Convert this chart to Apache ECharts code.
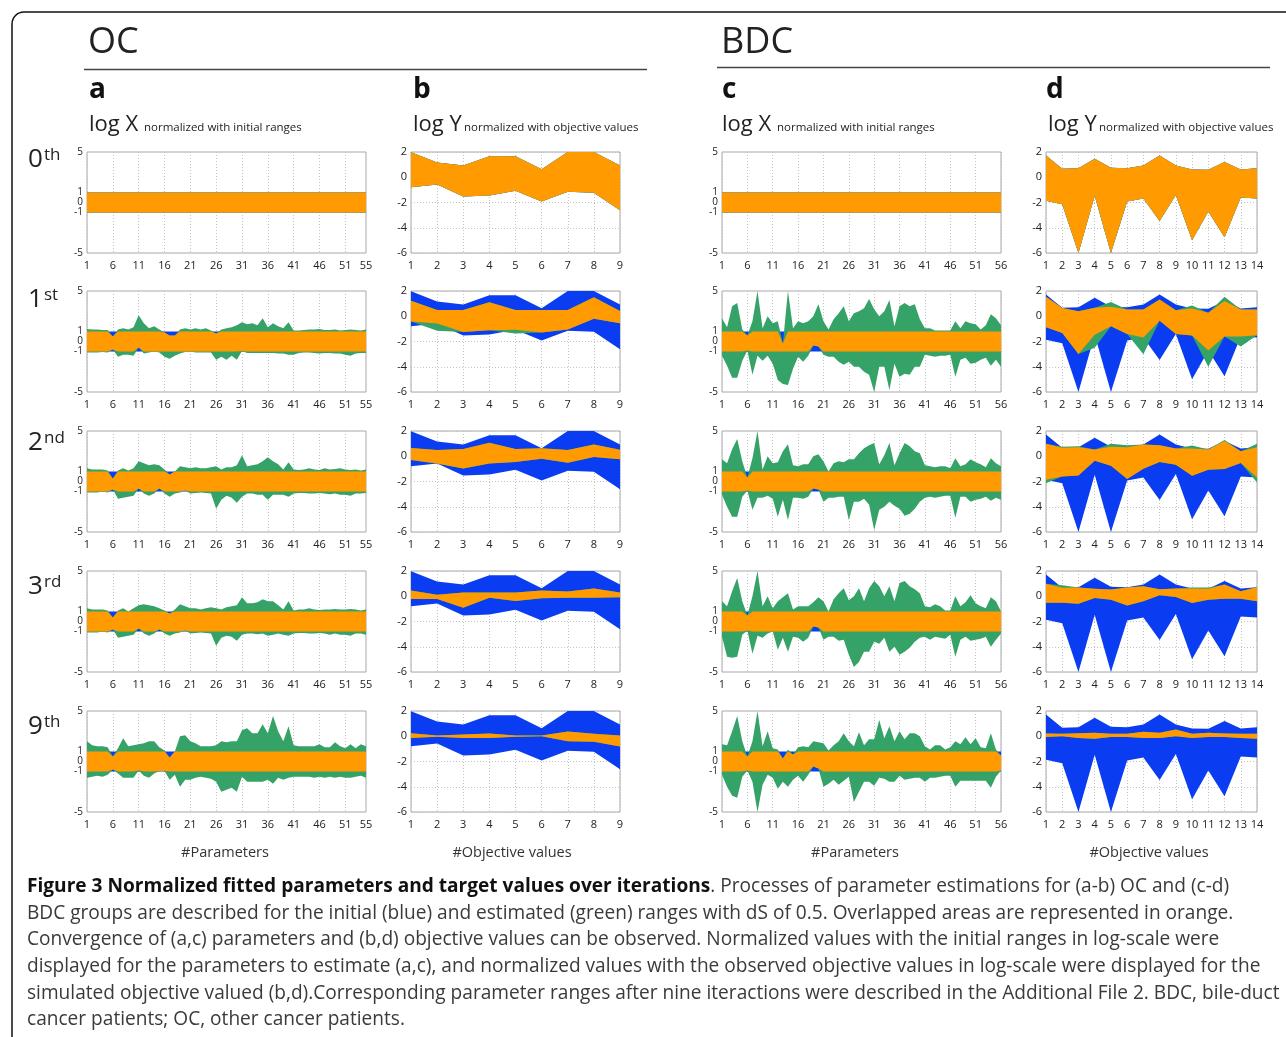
<!DOCTYPE html>
<html>
<head>
<meta charset="utf-8">
<script src="https://cdn.jsdelivr.net/npm/echarts@6/dist/echarts.min.js"></script>
<style>
html,body{margin:0;padding:0;background:#fff;}
#main{width:1286px;height:1037px;}
</style>
</head>
<body>
<div id="main"></div>
<script>
// categories
function idx(n){ var a=[]; for(var i=1;i<=n;i++){ a.push(String(i)); } return a; }
var paramsOC  = idx(55);
var paramsBDC = idx(56);
var objOC  = idx(9);
var objBDC = idx(14);

// initial ranges (normalized log X is -1..1 for every parameter)
var initLoX = -1, initHiX = 1;
// initial ranges of objective values (log Y)
var bInitHi = [1.99,1.17,0.93,1.66,1.66,0.63,2.0,2.0,0.93];
var bInitLo = [-0.79,-0.57,-1.52,-1.44,-1.06,-1.93,-1.14,-1.22,-2.61];
var dInitHi = [1.73,0.67,0.72,1.47,0.75,0.72,0.93,1.73,0.93,0.61,0.59,1.2,0.61,0.72];
var dInitLo = [-1.87,-2.13,-6.0,-1.47,-6.0,-1.92,-1.68,-3.47,-1.41,-4.99,-2.72,-4.75,-1.6,-1.68];

// estimated ranges, OC parameters (a)
var a1Hi = [1.25,1.2,1.2,1.15,1.15, 0.5,1.2,1.3,1.2,1.4, 2.6,1.8,1.3,1.5,1.2, 0.9,0.6,0.6,1.2,1.3, 1.2,1.3,1.2,1.3,1.1, 0.8,1.2,1.3,1.4,1.6, 1.9,1.7,1.8,1.6,2.3, 1.4,1.8,1.5,1.3,1.9, 1.1,1.1,1.15,1.2,1.2, 1.25,1.15,1.15,1.2,1.1, 1.15,1.2,1.15,1.1,1.2];
var a1Lo = [-1.1,-1.1,-1.1,-1.05,-1.1, -0.8,-1.5,-1.3,-1.3,-1.4, -0.6,-1.2,-1.1,-1.0,-1.1, -1.5,-1.7,-1.4,-1.2,-1.05, -1.0,-1.1,-1.1,-1.1,-1.1, -1.8,-1.5,-1.8,-1.4,-1.8, -0.95,-1.15,-1.15,-1.15,-1.15, -1.15,-1.15,-1.2,-1.2,-1.3, -1.3,-1.15,-1.1,-1.1,-1.15, -1.2,-1.15,-1.15,-1.2,-1.2, -1.3,-1.4,-1.2,-1.15,-1.15];
var a2Hi = [1.3,1.2,1.2,1.2,1.1, 0.3,1.1,1.3,1.1,1.3, 2.0,1.8,1.6,1.7,1.6, 1.2,0.7,1.0,1.5,1.4, 1.3,1.4,1.3,1.3,1.4, 1.5,1.2,1.4,1.4,1.6, 2.6,1.5,1.6,1.7,2.0, 2.4,2.0,1.7,1.2,1.9, 1.2,1.15,1.2,1.3,1.2, 1.15,1.3,1.2,1.25,1.3, 1.2,1.15,1.2,1.1,1.2];
var a2Lo = [-1.1,-1.1,-1.1,-1.0,-1.1, -0.8,-1.7,-1.6,-1.5,-1.4, -0.7,-1.2,-1.4,-1.2,-0.7, -1.2,-1.5,-1.2,-1.1,-0.9, -1.2,-1.15,-1.1,-1.15,-1.2, -2.7,-1.8,-1.4,-1.6,-2.1, -1.5,-1.2,-1.2,-1.3,-1.3, -1.8,-1.3,-1.3,-1.3,-1.5, -1.2,-1.15,-1.15,-1.2,-1.2, -1.15,-1.2,-1.25,-1.2,-1.3, -1.3,-1.4,-1.2,-1.2,-1.15];
var a3Hi = [1.3,1.2,1.2,1.2,1.1, 0.4,1.1,1.3,1.0,1.3, 1.6,1.7,1.6,1.5,1.3, 1.1,0.8,1.2,1.7,1.5, 1.3,1.3,1.2,1.3,1.4, 1.3,1.2,1.4,1.5,1.6, 2.4,1.8,1.8,1.9,2.2, 2.0,2.0,1.6,1.2,2.0, 1.1,1.2,1.2,1.3,1.2, 1.15,1.2,1.2,1.25,1.2, 1.2,1.25,1.2,1.1,1.2];
var a3Lo = [-1.1,-1.1,-1.1,-1.0,-1.1, -0.8,-1.6,-1.5,-1.4,-1.3, -0.7,-1.2,-1.4,-1.2,-0.8, -1.2,-1.4,-1.2,-1.1,-0.9, -1.2,-1.15,-1.1,-1.15,-1.2, -2.4,-1.6,-1.4,-1.5,-1.9, -1.3,-1.2,-1.2,-1.25,-1.2, -1.4,-1.3,-1.2,-1.3,-1.4, -1.2,-1.15,-1.15,-1.2,-1.2, -1.15,-1.2,-1.3,-1.2,-1.3, -1.3,-1.4,-1.2,-1.2,-1.3];
var a4Hi = [2.0,1.6,1.5,1.5,1.4, 0.5,1.3,2.3,1.5,1.6, 1.7,1.8,2.0,2.0,1.4, 1.1,0.4,1.0,2.5,2.6, 2.0,1.8,1.5,1.5,1.5, 1.6,2.0,1.9,2.0,2.0, 3.1,3.3,2.8,2.8,3.7, 2.8,4.5,3.0,2.0,3.5, 1.6,1.5,1.5,1.5,1.5, 1.7,1.4,1.4,1.9,1.5, 1.3,1.7,1.3,1.7,1.5];
var a4Lo = [-1.6,-1.5,-1.4,-1.5,-1.3, -0.8,-1.2,-1.6,-1.6,-1.6, -0.9,-1.4,-1.6,-1.2,-0.95, -0.95,-1.8,-1.3,-2.5,-1.8, -1.8,-1.6,-1.5,-1.6,-1.7, -2.0,-3.0,-2.8,-2.6,-3.0, -1.5,-2.0,-2.0,-2.0,-2.0, -1.8,-2.2,-1.6,-1.8,-1.6, -1.5,-1.5,-1.5,-1.5,-1.6, -1.5,-1.6,-1.5,-1.6,-1.5, -1.6,-1.6,-1.5,-1.4,-1.6];

// estimated ranges, BDC parameters (c)
var c1Hi = [2.3,1.4,3.5,3.8,1.2, 0.6,2.0,5.0,1.3,2.5, 1.8,2.0,-0.2,5.0,1.3, 2.0,1.8,2.0,2.5,3.7, 2.0,1.2,2.2,2.8,3.5, 2.0,2.8,3.0,3.3,4.2, 3.2,2.5,3.0,4.1,1.5, 3.5,3.8,3.5,3.7,2.2, 1.3,1.3,1.1,1.1,1.1, 1.1,2.0,1.3,2.0,1.8, 1.7,1.2,1.6,2.7,2.3, 1.6];
var c1Lo = [-1.4,-2.4,-3.6,-3.6,-1.9, -0.9,-3.3,-1.4,-1.9,-1.4, -2.2,-3.8,-4.2,-4.3,-2.7, -1.5,-2.0,-1.4,-0.4,-0.5, -1.3,-1.5,-1.5,-2.0,-2.3, -2.0,-2.5,-2.5,-3.0,-3.3, -5.0,-2.5,-2.5,-4.8,-2.2, -3.5,-3.2,-3.3,-2.5,-2.5, -1.3,-1.4,-1.5,-1.4,-1.4, -1.3,-3.5,-1.8,-1.6,-2.2, -2.1,-1.8,-1.6,-2.4,-1.8, -2.5];
var c2Hi = [2.2,1.8,3.2,4.2,2.0, 0.4,2.3,5.0,1.2,2.5, 1.8,1.9,3.0,3.7,1.6, 1.5,1.7,1.7,2.5,2.7, 2.0,1.0,1.8,2.0,1.9, 2.2,2.2,2.8,3.3,3.6, 3.8,1.7,2.6,3.8,1.6, 2.8,3.8,3.5,3.0,2.8, 1.6,1.5,1.4,1.5,1.5, 1.3,2.3,1.5,1.7,2.2, 1.9,1.7,1.4,2.3,1.8, 1.5];
var c2Lo = [-1.3,-2.5,-3.5,-3.5,-1.5, -0.9,-2.8,-1.6,-1.6,-1.4, -1.7,-3.5,-1.8,-3.8,-1.6, -1.6,-1.7,-1.5,-0.7,-0.8, -2.0,-1.6,-1.6,-1.5,-1.5, -3.8,-2.0,-2.0,-1.7,-2.3, -4.8,-2.8,-2.5,-2.0,-2.4, -2.7,-3.4,-3.2,-2.7,-2.0, -1.6,-1.5,-1.6,-1.5,-1.4, -1.4,-3.6,-1.5,-1.5,-2.0, -1.8,-1.7,-1.5,-1.9,-1.6, -1.8];
var c3Hi = [2.0,1.5,3.0,4.3,2.0, 0.6,2.5,5.0,1.5,2.5, 1.3,2.0,2.4,2.8,1.2, 1.5,1.5,1.5,1.9,2.4, 2.0,1.0,2.2,2.8,3.3, 2.1,2.5,3.3,2.0,3.3, 4.0,3.5,2.5,3.5,2.0, 3.8,4.0,3.5,3.2,2.8, 1.5,1.4,1.7,1.5,1.1, 1.1,2.5,1.5,1.9,2.6, 1.8,1.5,1.3,2.4,2.0, 1.0];
var c3Lo = [-1.5,-3.5,-3.6,-3.5,-1.3, -0.9,-3.2,-1.4,-1.6,-1.2, -1.0,-2.8,-1.6,-3.0,-1.5, -1.6,-2.0,-1.6,-0.5,-0.6, -1.8,-1.5,-1.5,-1.9,-1.8, -3.3,-4.5,-4.0,-3.0,-3.0, -2.0,-2.2,-1.6,-3.0,-2.5, -3.3,-3.0,-2.6,-2.0,-1.6, -1.5,-1.8,-1.5,-1.6,-1.7, -1.3,-3.5,-1.8,-1.5,-1.9, -1.8,-1.7,-1.5,-2.5,-1.8, -1.2];
var c4Hi = [1.7,1.6,3.0,4.5,2.0, 0.5,2.0,5.0,1.5,3.0, 1.3,1.2,0.3,1.2,0.7, 1.4,1.5,1.4,2.0,1.9, 1.8,1.1,1.6,2.0,2.8, 2.0,1.5,2.9,1.6,2.2, 2.2,4.1,2.3,3.5,2.0, 3.0,2.2,2.8,2.8,2.5, 1.5,1.2,1.6,1.6,1.2, 1.4,2.0,1.7,2.4,1.7, 2.3,1.4,1.3,2.8,1.2, 0.6];
var c4Lo = [-1.3,-2.5,-3.4,-3.6,-1.5, -0.9,-2.0,-5.0,-2.3,-1.3, -1.6,-2.7,-2.0,-2.5,-1.8, -1.4,-2.0,-1.3,-0.5,-0.7, -2.5,-2.2,-1.8,-2.3,-1.9, -1.5,-4.0,-3.0,-2.0,-2.0, -2.4,-1.6,-1.7,-2.0,-2.0, -1.4,-1.8,-1.7,-1.6,-1.6, -2.0,-1.6,-1.6,-1.5,-1.4, -1.4,-2.5,-1.9,-1.9,-1.9, -1.9,-1.9,-1.9,-2.6,-1.5, -0.9];

// estimated ranges, OC objective values (b)
var b1Hi = [1.23,0.49,0.49,1.1,0.49,0.49,0.49,1.5,0.41];
var b1Lo = [-0.41,-1.15,-1.25,-1.1,-1.37,-1.28,-1.04,-0.19,-0.55];
var b2Hi = [0.65,0.49,0.57,1.06,0.57,0.63,0.49,0.93,0.52];
var b2Lo = [-0.3,-0.6,-0.98,-0.57,-0.46,-0.19,-0.52,-0.05,-0.24];
var b3Hi = [0.46,0.11,0.3,0.3,0.3,0.46,0.38,0.62,0.3];
var b3Lo = [-0.22,-0.22,-0.92,-0.11,-0.38,-0.16,-0.11,-0.11,-0.08];
var b4Hi = [0.24,0.05,0.13,0.22,0.05,0.05,0.38,0.19,0.05];
var b4Lo = [-0.13,-0.03,-0.13,-0.13,-0.03,0,-0.4,-0.43,-0.81];

// estimated ranges, BDC objective values (d)
var d1Hi = [1.55,0.65,0.4,0.67,1.12,0.53,0.53,1.33,0.48,0.85,0.27,1.55,0.53,0.53];
var d1Lo = [-0.88,-1.33,-2.99,-2.5,-0.8,-1.41,-3.0,-0.35,-1.4,-1.52,-4.0,-1.6,-2.4,-1.5];
var d2Hi = [1.0,0.75,0.8,0.53,1.0,0.88,0.93,0.88,0.61,0.85,0.53,1.28,0.4,1.0];
var d2Lo = [-2.13,-1.6,-1.52,-0.35,-0.75,-1.81,-0.99,-0.45,-0.67,-1.55,-1.07,-1.01,-0.53,-2.08];
var d3Hi = [1.0,0.88,0.7,0.59,0.54,0.7,0.8,0.56,0.62,0.7,0.7,0.94,0.4,0.75];
var d3Lo = [-0.51,-0.51,-0.59,-0.13,-0.27,-0.73,-0.4,0.08,-0.05,-0.54,-0.27,-0.19,-0.19,-0.4];
var d4Hi = [0.21,0.19,0.24,0.27,0.19,0.19,0.35,0.27,0.53,0.19,0.27,0.21,0.19,0.19];
var d4Lo = [-0.05,0,-0.13,-0.19,-0.05,-0.05,-0.13,-0.13,0,-0.13,-0.05,-0.05,-0.13,-0.19];

var BLUE = '#0a3cf2', GREEN = '#35a267', ORANGE = '#ff9a00';

function constArr(n, v){ var a=[]; for(var i=0;i<n;i++){ a.push(v); } return a; }
var aInitLo = constArr(55, initLoX), aInitHi = constArr(55, initHiX);
var cInitLo = constArr(56, initLoX), cInitHi = constArr(56, initHiX);

var cols = [
  {left:87,  width:279, cats:paramsOC,  kind:'x'},
  {left:411, width:209, cats:objOC,     kind:'y'},
  {left:722, width:279, cats:paramsBDC, kind:'x'},
  {left:1046,width:211, cats:objBDC,    kind:'y'}
];
var rowTops = [152, 291, 431, 571, 711];
var panelH = 101;

// [col][row] -> [initLo, initHi, estLo, estHi]
var panelData = [
  [ [aInitLo,aInitHi,aInitLo,aInitHi], [aInitLo,aInitHi,a1Lo,a1Hi], [aInitLo,aInitHi,a2Lo,a2Hi], [aInitLo,aInitHi,a3Lo,a3Hi], [aInitLo,aInitHi,a4Lo,a4Hi] ],
  [ [bInitLo,bInitHi,bInitLo,bInitHi], [bInitLo,bInitHi,b1Lo,b1Hi], [bInitLo,bInitHi,b2Lo,b2Hi], [bInitLo,bInitHi,b3Lo,b3Hi], [bInitLo,bInitHi,b4Lo,b4Hi] ],
  [ [cInitLo,cInitHi,cInitLo,cInitHi], [cInitLo,cInitHi,c1Lo,c1Hi], [cInitLo,cInitHi,c2Lo,c2Hi], [cInitLo,cInitHi,c3Lo,c3Hi], [cInitLo,cInitHi,c4Lo,c4Hi] ],
  [ [dInitLo,dInitHi,dInitLo,dInitHi], [dInitLo,dInitHi,d1Lo,d1Hi], [dInitLo,dInitHi,d2Lo,d2Hi], [dInitLo,dInitHi,d3Lo,d3Hi], [dInitLo,dInitHi,d4Lo,d4Hi] ]
];

var grids = [], xAxes = [], yAxes = [], series = [];

function band(i, name, lo, hi, color){
  var diff = hi.map(function(v, k){ return Math.max(0, v - lo[k]); });
  var base = {type:'line', xAxisIndex:i, yAxisIndex:i, stack:name + i, stackStrategy:'all',
              symbol:'none', showSymbol:false, silent:true, animation:false,
              lineStyle:{width:0, opacity:0}};
  series.push(Object.assign({}, base, {data:lo}));
  series.push(Object.assign({}, base, {data:diff, areaStyle:{color:color, opacity:1}}));
}

var n = 0;
cols.forEach(function(col, ci){
  rowTops.forEach(function(top, ri){
    var d = panelData[ci][ri];
    var cats = col.cats, last = cats.length - 1;
    grids.push({left:col.left, top:top, width:col.width, height:panelH,
                show:true, borderColor:'#a8a8a8', borderWidth:1, backgroundColor:'#fff'});
    var showIdx = col.kind === 'x'
      ? function(i){ return i % 5 === 0 || i === last; }
      : function(i){ return true; };
    var gridIdx = col.kind === 'x'
      ? function(i){ return i % 5 === 0; }
      : function(i){ return true; };
    xAxes.push({type:'category', gridIndex:n, data:cats, boundaryGap:false,
                axisLine:{show:false}, axisTick:{show:false},
                axisLabel:{interval:showIdx, fontSize:11, color:'#222', margin:7, fontFamily:'"Open Sans", sans-serif'},
                splitLine:{show:true, interval:gridIdx, lineStyle:{type:[1,2], color:'#c4c4c4', width:1}}});
    if (col.kind === 'x') {
      yAxes.push({type:'value', gridIndex:n, min:-5, max:5,
                  axisLine:{show:false}, axisTick:{show:false}, splitLine:{show:false},
                  axisLabel:{customValues:[-5,-1,0,1,5], fontSize:10, color:'#222', margin:4, fontFamily:'"Open Sans", sans-serif'}});
    } else {
      yAxes.push({type:'value', gridIndex:n, min:-6, max:2, interval:2,
                  axisLine:{show:false}, axisTick:{show:false},
                  splitLine:{show:true, lineStyle:{type:[1,2], color:'#c4c4c4', width:1}},
                  axisLabel:{fontSize:11, color:'#222', margin:4, fontFamily:'"Open Sans", sans-serif'}});
    }
    var iLo = d[0], iHi = d[1], eLo = d[2], eHi = d[3];
    var oLo = iLo.map(function(v, k){ return Math.max(v, eLo[k]); });
    var oHi = iHi.map(function(v, k){ return Math.max(oLo[k], Math.min(v, eHi[k])); });
    band(n, 'blue', iLo, iHi, BLUE);
    band(n, 'green', eLo, eHi, GREEN);
    band(n, 'orange', oLo, oHi, ORANGE);
    n++;
  });
});

var FONT = '"Open Sans", sans-serif';
function txt(s, x, y, size, o){
  o = o || {};
  return {type:'text', x:x, y:y, silent:true, z:10,
          style:{text:s, fontSize:size, fontFamily:FONT, fontWeight:o.weight || 'normal',
                 fill:o.color || '#222', align:o.align || 'left', verticalAlign:o.va || 'middle'}};
}

var graphics = [
  {type:'rect', silent:true, shape:{x:12, y:12, width:1300, height:1060, r:[12,0,0,0]}, style:{fill:'none', stroke:'#111', lineWidth:1.5}},
  {type:'line', silent:true, shape:{x1:84, y1:69.5, x2:647, y2:69.5}, style:{stroke:'#444', lineWidth:1.5}},
  {type:'line', silent:true, shape:{x1:717, y1:67.5, x2:1270, y2:67.5}, style:{stroke:'#444', lineWidth:1.5}},
  txt('OC', 88, 43, 36, {color:'#222'}),
  txt('BDC', 721, 43, 36, {color:'#222'}),
  txt('a', 89, 90, 28, {weight:'bold', color:'#111'}),
  txt('b', 413, 90, 28, {weight:'bold', color:'#111'}),
  txt('c', 722, 90, 28, {weight:'bold', color:'#111'}),
  txt('d', 1046, 90, 28, {weight:'bold', color:'#111'}),
  txt('log X', 89, 125, 22),
  txt('normalized with initial ranges', 144, 128, 11.5),
  txt('log Y', 413, 125, 22),
  txt('normalized with objective values', 464, 128, 11.5),
  txt('log X', 722, 125, 22),
  txt('normalized with initial ranges', 777, 128, 11.5),
  txt('log Y', 1048, 125, 22),
  txt('normalized with objective values', 1099, 128, 11.5),
  txt('#Parameters', 225, 853, 14.5, {align:'center', color:'#333'}),
  txt('#Objective values', 512, 853, 14.5, {align:'center', color:'#333'}),
  txt('#Parameters', 855, 853, 14.5, {align:'center', color:'#333'}),
  txt('#Objective values', 1149, 853, 14.5, {align:'center', color:'#333'})
];

// row labels with superscripts
var rowLabels = [['0','th'],['1','st'],['2','nd'],['3','rd'],['9','th']];
var rowLabelY = [160, 300, 443, 587, 727];
rowLabels.forEach(function(r, i){
  graphics.push(txt(r[0], 28, rowLabelY[i], 26, {color:'#222'}));
  graphics.push(txt(r[1], 44, rowLabelY[i] - 13, 17, {color:'#222', va:'top'}));
});

// caption
var CAP = 19.1;
var capLines = [
  '{b|Figure 3 Normalized fitted parameters and target values over iterations}{n|. Processes of parameter estimations for (a-b) OC and (c-d)}',
  'BDC groups are described for the initial (blue) and estimated (green) ranges with dS of 0.5. Overlapped areas are represented in orange.',
  'Convergence of (a,c) parameters and (b,d) objective values can be observed. Normalized values with the initial ranges in log-scale were',
  'displayed for the parameters to estimate (a,c), and normalized values with the observed objective values in log-scale were displayed for the',
  'simulated objective valued (b,d).Corresponding parameter ranges after nine iteractions were described in the Additional File 2. BDC, bile-duct',
  'cancer patients; OC, other cancer patients.'
];
var capY = [887, 913.5, 940, 967, 993.5, 1020];
capLines.forEach(function(s, i){
  graphics.push({type:'text', x:27, y:capY[i], silent:true, z:10,
    style:{text:s, fontSize:CAP, fontFamily:FONT, fill:'#3a3a3a', verticalAlign:'middle',
           rich:{b:{fontSize:CAP, fontFamily:FONT, fontWeight:'bold', fill:'#111'},
                 n:{fontSize:CAP, fontFamily:FONT, fill:'#3a3a3a'}}}});
});

var chart = echarts.init(document.getElementById('main'));
chart.setOption({
  animation:false,
  backgroundColor:'#fff',
  grid:grids,
  xAxis:xAxes,
  yAxis:yAxes,
  series:series,
  graphic:graphics
});
</script>
</body>
</html>
